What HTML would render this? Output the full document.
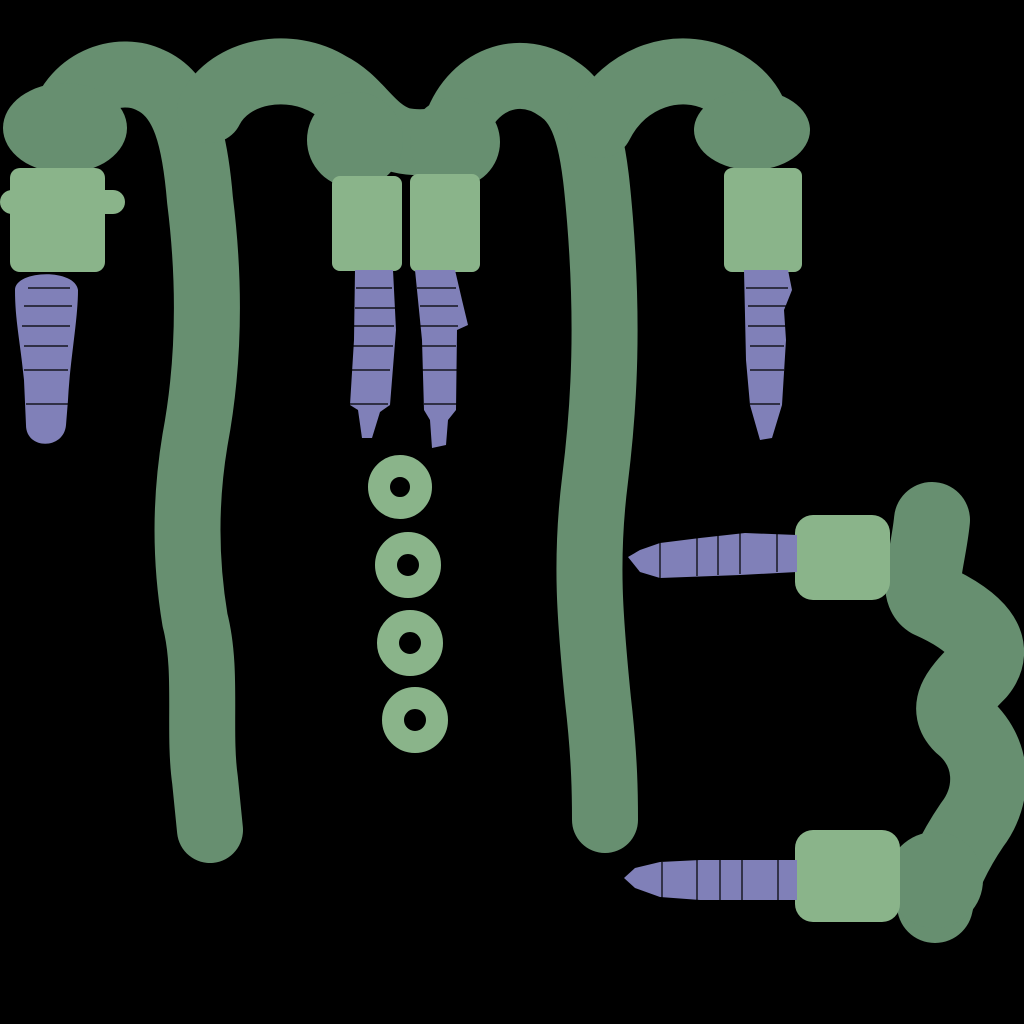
<!DOCTYPE html>
<html><head><meta charset="utf-8"><style>
html,body{margin:0;padding:0;background:#000;width:1024px;height:1024px;overflow:hidden}
</style></head><body>
<svg width="1024" height="1024" viewBox="0 0 1024 1024" xmlns="http://www.w3.org/2000/svg">
<rect width="1024" height="1024" fill="#000"/>
<g fill="none" stroke="#678f70" stroke-width="66" stroke-linecap="round" stroke-linejoin="round">
<path d="M60,130 C70,80 120,65 150,80 C185,95 195,140 200,200 C210,280 210,360 195,440 C185,500 185,560 195,620 C208,670 198,730 205,780 L210,830"/>
<path d="M210,110 C230,70 290,60 330,85 C360,100 370,130 400,140 C420,145 440,140 455,140"/>
<path d="M455,130 C470,80 520,60 560,90 C590,110 595,160 600,220 C608,320 605,400 595,480 C585,560 590,620 598,700 C605,760 605,800 605,820"/>
<path d="M600,125 C625,75 680,60 720,80 C750,95 760,120 755,130"/>
</g>
<path fill="none" stroke="#678f70" stroke-width="76" stroke-linecap="round" stroke-linejoin="round" d="M932,520 C928,560 915,590 930,600 C975,620 1000,645 978,672 C958,692 945,708 962,725 C995,752 995,795 972,825 C955,850 940,880 935,905"/>
<g fill="#678f70">
<ellipse cx="65" cy="128" rx="62" ry="45"/>
<circle cx="355" cy="140" r="48"/>
<circle cx="455" cy="142" r="45"/>
<ellipse cx="752" cy="130" rx="58" ry="40"/>
<circle cx="935" cy="880" r="48"/>
</g>
<g fill="#8ab48a">
<rect x="10" y="168" width="95" height="104" rx="10"/>
<rect x="0" y="190" width="125" height="24" rx="12"/>
<rect x="332" y="176" width="70" height="95" rx="8"/>
<rect x="410" y="174" width="70" height="98" rx="8"/>
<rect x="724" y="168" width="78" height="104" rx="8"/>
<rect x="795" y="515" width="95" height="85" rx="18"/>
<rect x="795" y="830" width="105" height="92" rx="18"/>
</g>
<g fill="none" stroke="#8ab48a" stroke-width="22">
<circle cx="400" cy="487" r="21"/>
<circle cx="408" cy="565" r="22"/>
<circle cx="410" cy="643" r="22"/>
<circle cx="415" cy="720" r="22"/>
</g>
<g fill="#8080b8">
<path d="M15,290 C15,270 75,268 78,290 C78,320 70,360 68,400 L66,425 C64,450 26,450 26,425 L24,380 C20,340 15,320 15,290 Z"/>
<path d="M355,270 L393,270 L396,330 L390,405 L380,412 L372,438 L362,438 L358,410 L350,405 L354,340 Z"/>
<path d="M415,270 L455,270 L462,300 L468,325 L457,330 L456,410 L448,420 L446,445 L432,448 L430,420 L424,410 L422,340 Z"/>
<path d="M744,270 L788,270 L792,290 L784,310 L786,340 L782,405 L772,438 L760,440 L750,405 L746,360 Z"/>
<path d="M797,535 L797,572 L740,575 L660,578 L640,572 L628,557 L640,550 L660,543 L700,538 L745,533 Z"/>
<path d="M797,860 L797,900 L700,900 L660,897 L635,888 L624,878 L635,868 L660,862 L700,860 Z"/>
</g>
<g stroke="#000" stroke-width="1.2">
<path d="M28,288H70M24,306H72M22,326H70M24,346H68M24,370H68M26,404H68M356,288H392M355,308H396M354,326H394M353,346H393M352,370H390M350,404H388M417,288H456M420,306H458M420,326H458M422,346H456M422,370H458M424,404H458M746,288H788M748,306H788M748,326H786M750,346H784M750,370H784M750,404H780M660,540V578M697,535V576M718,535V575M740,533V574M777,533V572M662,862V898M697,860V900M720,860V900M742,860V900M778,860V900"/>
<path d="M405,178V225" stroke-width="4"/>
</g>
</svg>
</body></html>
